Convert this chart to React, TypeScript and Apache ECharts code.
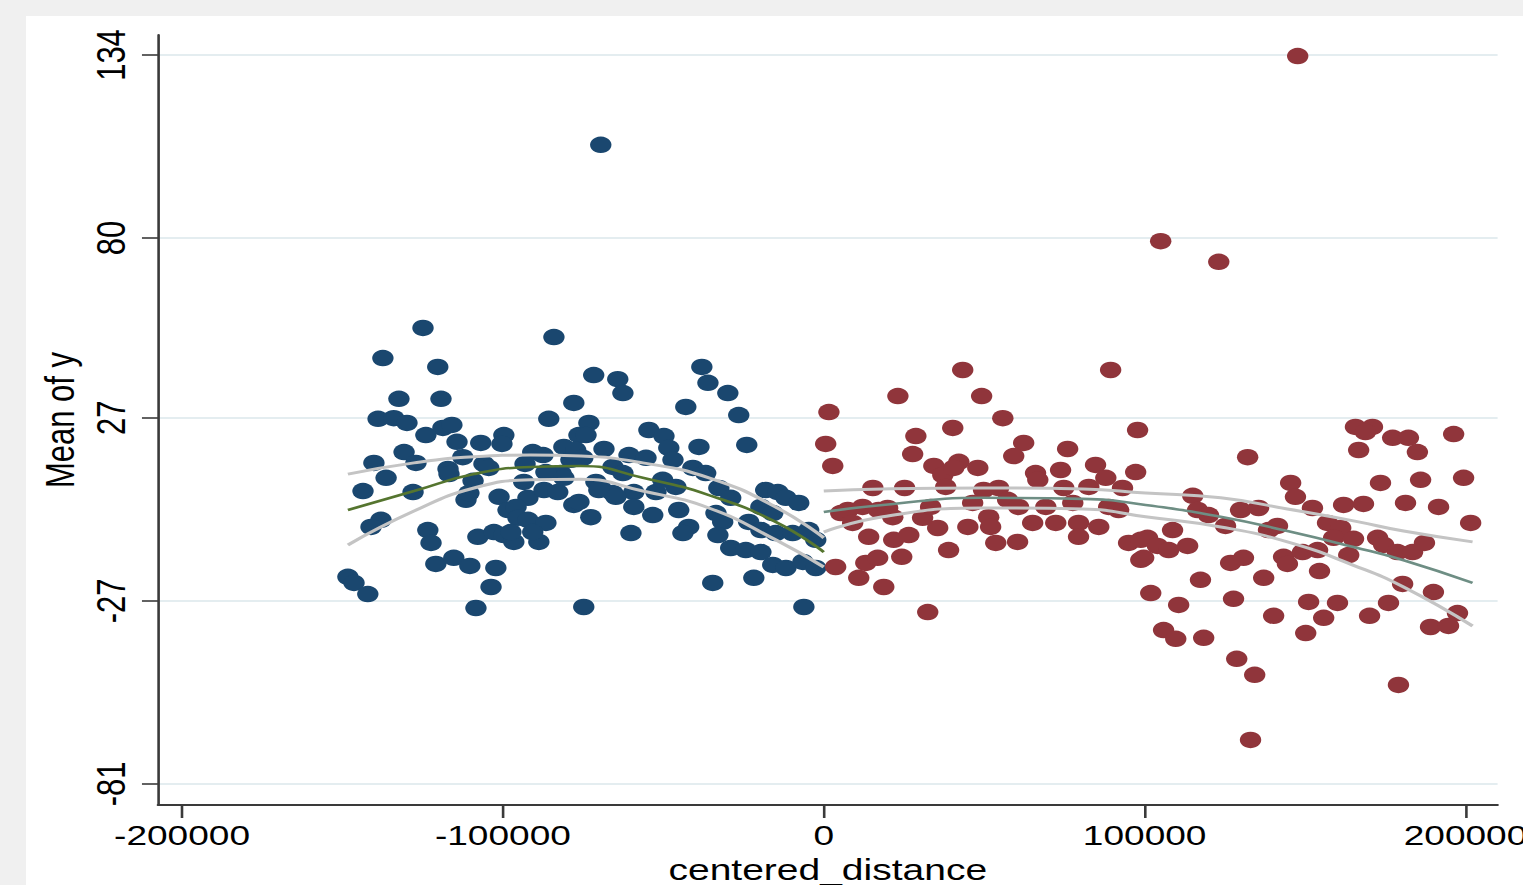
import React, { useEffect, useRef } from "react";
import * as echarts from "echarts";

// ---- data ----
const xTicks = [-200000, -100000, 0, 100000, 200000];
const yTicks = [-81, -27, 27, 80, 134];

// left of the cutoff (navy)
const leftPoints: [number, number][] = [
  [-124900, 53.5], [-137400, 44.6], [-120300, 42.0], [-84100, 50.8], [-132400, 32.6], [-119300, 32.6],
  [-77900, 31.4], [-138900, 26.7], [-134000, 26.9], [-129900, 25.5], [-85700, 26.7], [-118700, 24.0],
  [-115900, 24.9], [-124000, 21.9], [-114300, 19.9], [-106900, 19.6], [-99700, 21.9], [-100300, 19.3],
  [-130800, 16.9], [-112500, 15.4], [-90700, 16.9], [-87500, 16.0], [-81000, 18.4], [-76300, 21.9],
  [-140200, 13.7], [-127100, 13.7], [-105900, 13.4], [-117100, 11.9], [-78800, 14.6],
  [-104400, 12.2], [-136400, 9.3], [-143600, 5.4], [-128000, 5.1], [-116800, 10.4], [-109300, 8.4],
  [-111500, 2.8], [-110600, 4.8], [-101200, 3.7], [-93500, 8.1], [-92200, 3.4], [-87200, 5.7],
  [-82900, 5.1], [-81900, 10.7], [-77900, 1.3], [-98400, -0.2], [-95900, 0.7], [-95300, -2.5],
  [-92200, -3.1], [-86600, -4.0], [-138000, -3.1], [-141100, -5.2], [-123400, -6.1], [-122400, -9.9],
  [-107800, -8.1], [-102800, -6.7], [-99700, -7.6], [-96600, -9.6], [-97500, -6.7], [-88800, -9.6],
  [-90700, -6.7], [-120900, -16.1], [-115300, -14.3], [-110300, -16.7], [-102200, -17.3], [-103700, -22.9],
  [-148300, -19.9], [-146400, -21.7], [-142100, -25.0], [-108400, -29.1],
  [-71700, 39.6], [-64200, 38.4], [-62600, 34.3], [-38000, 42.0], [-36100, 37.3], [-29900, 34.3],
  [-43000, 30.2], [-26500, 27.8], [-73200, 25.5], [-74100, 21.9], [-54500, 23.4], [-49800, 21.6],
  [-38900, 18.4], [-24000, 19.0], [-68500, 17.8], [-48300, 18.1], [-60700, 16.0], [-55400, 15.2],
  [-47000, 14.6], [-77300, 17.5], [-75100, 15.2], [-65700, 12.5], [-62600, 10.7], [-40800, 12.2],
  [-36800, 10.7], [-71000, 8.1], [-69500, 6.3], [-65700, 4.8], [-59200, 5.1], [-52300, 5.1],
  [-50200, 8.7], [-46100, 6.6], [-32700, 6.3], [-29000, 3.4], [-18100, 5.7], [-14300, 5.1],
  [-11800, 3.4], [-7800, 1.9], [-76300, 2.2], [-72600, -2.3], [-59200, 0.7], [-53300, -1.7],
  [-45200, -0.2], [-33600, -1.1], [-19600, 0.7], [-15900, -1.1],
  [-70100, 5.7], [-64800, 3.7], [-60100, -7.0], [-42100, -5.2], [-43900, -7.0], [-31500, -3.7],
  [-33000, -7.6], [-23400, -3.7], [-19600, -6.1], [-15000, -7.0], [-9700, -7.0], [-4700, -6.1],
  [-2500, -9.0], [-29000, -11.4], [-24300, -12.0], [-19600, -12.6], [-15900, -16.4], [-11800, -17.3],
  [-6500, -15.5], [-2500, -17.3], [-34600, -21.7], [-21800, -20.2], [-74800, -28.8], [-6200, -28.8],
  [-69500, 107.5], [-93100, 13.4], [-86600, 11.0], [-81000, 9.3],
];

// right of the cutoff (maroon)
const rightPoints: [number, number][] = [
  [1600, 28.7], [23100, 33.4], [43300, 41.1], [49200, 33.4], [55800, 26.9], [89400, 41.1],
  [600, 19.3], [2800, 12.8], [28700, 21.6], [40200, 24.0], [27700, 16.3], [34300, 12.8],
  [37100, 10.1], [42100, 14.0], [40500, 12.2], [48000, 12.2], [38000, 6.6], [62300, 19.6],
  [59200, 15.7], [66000, 10.7], [66700, 8.7], [73800, 11.6], [76000, 17.8], [84700, 13.1],
  [87900, 9.3], [97800, 23.4], [97200, 11.0], [15300, 6.3], [25200, 6.3], [49800, 5.7],
  [54500, 6.3], [74800, 6.3], [82600, 6.6], [93100, 6.3], [5300, -1.1], [7500, -0.2],
  [12100, 0.7], [9000, -4.0], [17100, -0.2], [19900, 0.4], [21500, -2.3], [30800, -2.5],
  [33300, 0.7], [35500, -5.5], [46400, 1.9], [44900, -5.2], [51400, -2.3], [52000, -5.2],
  [57300, 2.8], [60700, 0.7], [65100, -4.0], [69200, 0.7], [72300, -4.0], [77600, 1.9],
  [79400, -4.0], [79400, -8.1], [85700, -5.2], [88800, 0.7], [91900, -0.2], [14000, -8.1],
  [21800, -9.0], [26500, -7.6], [53600, -9.9], [60400, -9.6], [38900, -12.0], [95000, -9.9],
  [98800, -9.0], [3700, -17.0], [13100, -15.8], [16800, -14.3], [24300, -14.0], [10900, -20.2],
  [18700, -22.9], [98800, -14.9], [32400, -30.3],
  [132100, 15.4], [165700, 24.3], [171000, 24.3], [168800, 22.8], [166700, 17.5], [177300, 21.1],
  [182200, 21.1], [185000, 16.9], [196300, 22.2], [145500, 7.8], [147000, 3.7], [173500, 7.8],
  [186000, 8.7], [199400, 9.3], [115000, 4.0], [116500, -0.2], [119900, -1.7], [129900, -0.2],
  [135500, 0.4], [152300, 0.4], [162000, 1.3], [168200, 1.6], [181300, 1.9], [191600, 0.7],
  [201600, -4.0], [125200, -4.9], [138600, -6.1], [141400, -4.9], [157000, -4.0], [161100, -5.5],
  [158900, -8.4], [165100, -8.7], [172600, -8.4], [174500, -10.5], [178800, -12.6], [183500, -12.6],
  [187200, -9.9], [100900, -8.4], [104000, -10.8], [107500, -12.0], [108700, -6.1], [113400, -10.8],
  [99700, -14.3], [126800, -15.8], [130800, -14.3], [143300, -14.0], [144500, -16.1], [149200, -12.6],
  [153900, -12.0], [163600, -13.5], [154500, -18.2], [117400, -20.8], [137100, -20.2], [180400, -22.0],
  [190000, -24.4], [101900, -24.7], [110600, -28.2], [127700, -26.4], [151100, -27.3], [160100, -27.6],
  [176000, -27.6], [140200, -31.4], [155800, -32.0], [170100, -31.4], [197500, -30.6], [105900, -35.6],
  [109700, -38.2], [118400, -37.9], [150200, -36.5], [189100, -34.7], [194700, -34.4], [128700, -44.1],
  [134300, -48.8], [179100, -51.8],
  [105000, 79.1], [123100, 73.0], [147700, 133.7], [133000, -68.0],
];

// quadratic fits with confidence bands
const leftFitX = [-148300, -127700, -109000, -91300, -75700, -56400, -35800, -15000, 0];
const leftFitY = [-0.2, 5.4, 10.4, 12.5, 12.8, 9.3, 4.2, -3.7, -12.6];
const leftUpperY = [10.4, 13.7, 15.5, 16.0, 15.7, 13.7, 9.3, 0.7, -8.4];
const leftLowerY = [-10.5, -0.5, 6.3, 8.7, 8.9, 5.4, 0.4, -9.0, -17.0];

const rightFitX = [0, 18400, 49500, 80700, 100300, 123700, 144500, 165100, 180700, 202200];
const rightFitY = [-0.8, 1.3, 3.4, 3.1, 1.3, -2.2, -6.4, -11.1, -15.0, -21.7];
const rightUpperY = [5.4, 6.0, 6.3, 6.0, 4.8, 3.4, 0.1, -3.4, -6.4, -9.6];
const rightLowerY = [-6.7, -2.2, 0.4, 0.1, -2.2, -5.2, -9.6, -16.5, -22.9, -34.4];

// ---- layout ----
const PAGE_W = 1523;
const PAGE_H = 885;
const PANEL_LEFT = 26;
const PANEL_TOP = 16;
const STRETCH_X = 1.3;

const FONT = "'Liberation Sans', Arial, Helvetica, sans-serif";
const NAVY = "#1a476f";
const MAROON = "#90353b";
const AXIS = "#3a3a3a";
const GRID = "#e4edf0";
const CI = "#c4c4c4";

const zip = (xs: number[], ys: number[]) => xs.map((x, i) => [x, ys[i]]);

function lineSeries(name: string, data: number[][], color: string, width: number, z: number) {
  return {
    name,
    type: "line",
    data,
    smooth: true,
    symbol: "none",
    z,
    lineStyle: { color, width },
    emphasis: { disabled: true },
    silent: true,
  };
}

export default function App() {
  const ref = useRef<HTMLDivElement>(null);

  useEffect(() => {
    document.body.style.margin = "0";
    document.body.style.overflow = "hidden";
    const chart = echarts.init(ref.current!, null, { renderer: "svg" });
    chart.setOption({
      animation: false,
      backgroundColor: "#ffffff",
      textStyle: { fontFamily: FONT },
      grid: {
        left: 101.5,
        right: 20,
        top: 19,
        bottom: 80,
        containLabel: false,
        outerBoundsMode: "none",
      },
      xAxis: {
        type: "value",
        min: -207500,
        max: 210000,
        name: "centered_distance",
        nameLocation: "middle",
        nameGap: 46,
        nameTextStyle: { fontSize: 30, color: "#000", fontFamily: FONT },
        axisLine: { show: true, onZero: false, lineStyle: { color: AXIS, width: 2 } },
        axisTick: { show: true, customValues: xTicks, length: 13, lineStyle: { color: AXIS, width: 2 } },
        axisLabel: {
          customValues: xTicks,
          fontSize: 28.5,
          color: "#000",
          margin: 16,
          fontFamily: FONT,
          formatter: (v: number) => String(v),
        },
        splitLine: { show: false },
      },
      yAxis: {
        type: "value",
        min: -87.2,
        max: 139.9,
        name: "Mean of y",
        nameLocation: "middle",
        nameGap: 43,
        nameTextStyle: { fontSize: 31, color: "#000", fontFamily: FONT },
        axisLine: { show: true, onZero: false, lineStyle: { color: AXIS, width: 2 } },
        axisTick: { show: true, customValues: yTicks, length: 12.3, lineStyle: { color: AXIS, width: 1.6 } },
        axisLabel: {
          customValues: yTicks,
          rotate: 90,
          fontSize: 31,
          color: "#000",
          margin: 21,
          fontFamily: FONT,
          formatter: (v: number) => String(v),
        },
        splitLine: { show: true, lineStyle: { color: GRID, width: 2 } },
      },
      series: [
        {
          name: "left",
          type: "scatter",
          data: leftPoints,
          symbol: "circle",
          symbolSize: 16.5,
          itemStyle: { color: NAVY, opacity: 1 },
          z: 2,
          silent: true,
        },
        {
          name: "right",
          type: "scatter",
          data: rightPoints,
          symbol: "circle",
          symbolSize: 16.5,
          itemStyle: { color: MAROON, opacity: 1 },
          z: 2,
          silent: true,
        },
        lineSeries("left upper", zip(leftFitX, leftUpperY), CI, 3, 3),
        lineSeries("left lower", zip(leftFitX, leftLowerY), CI, 3, 3),
        lineSeries("left fit", zip(leftFitX, leftFitY), "#55752f", 2.6, 4),
        lineSeries("right upper", zip(rightFitX, rightUpperY), CI, 3, 3),
        lineSeries("right lower", zip(rightFitX, rightLowerY), CI, 3, 3),
        lineSeries("right fit", zip(rightFitX, rightFitY), "#6e8e84", 2.6, 4),
      ],
    });
    return () => chart.dispose();
  }, []);

  const innerW = (PAGE_W - PANEL_LEFT) / STRETCH_X;
  return (
    <div
      style={{
        position: "fixed",
        left: 0,
        top: 0,
        width: PAGE_W,
        height: PAGE_H,
        background: "#f0f0f0",
        overflow: "hidden",
      }}
    >
      <div
        ref={ref}
        style={{
          position: "absolute",
          left: PANEL_LEFT,
          top: PANEL_TOP,
          width: innerW,
          height: PAGE_H - PANEL_TOP,
          background: "#ffffff",
          transform: `scaleX(${STRETCH_X})`,
          transformOrigin: "0 0",
        }}
      />
    </div>
  );
}
